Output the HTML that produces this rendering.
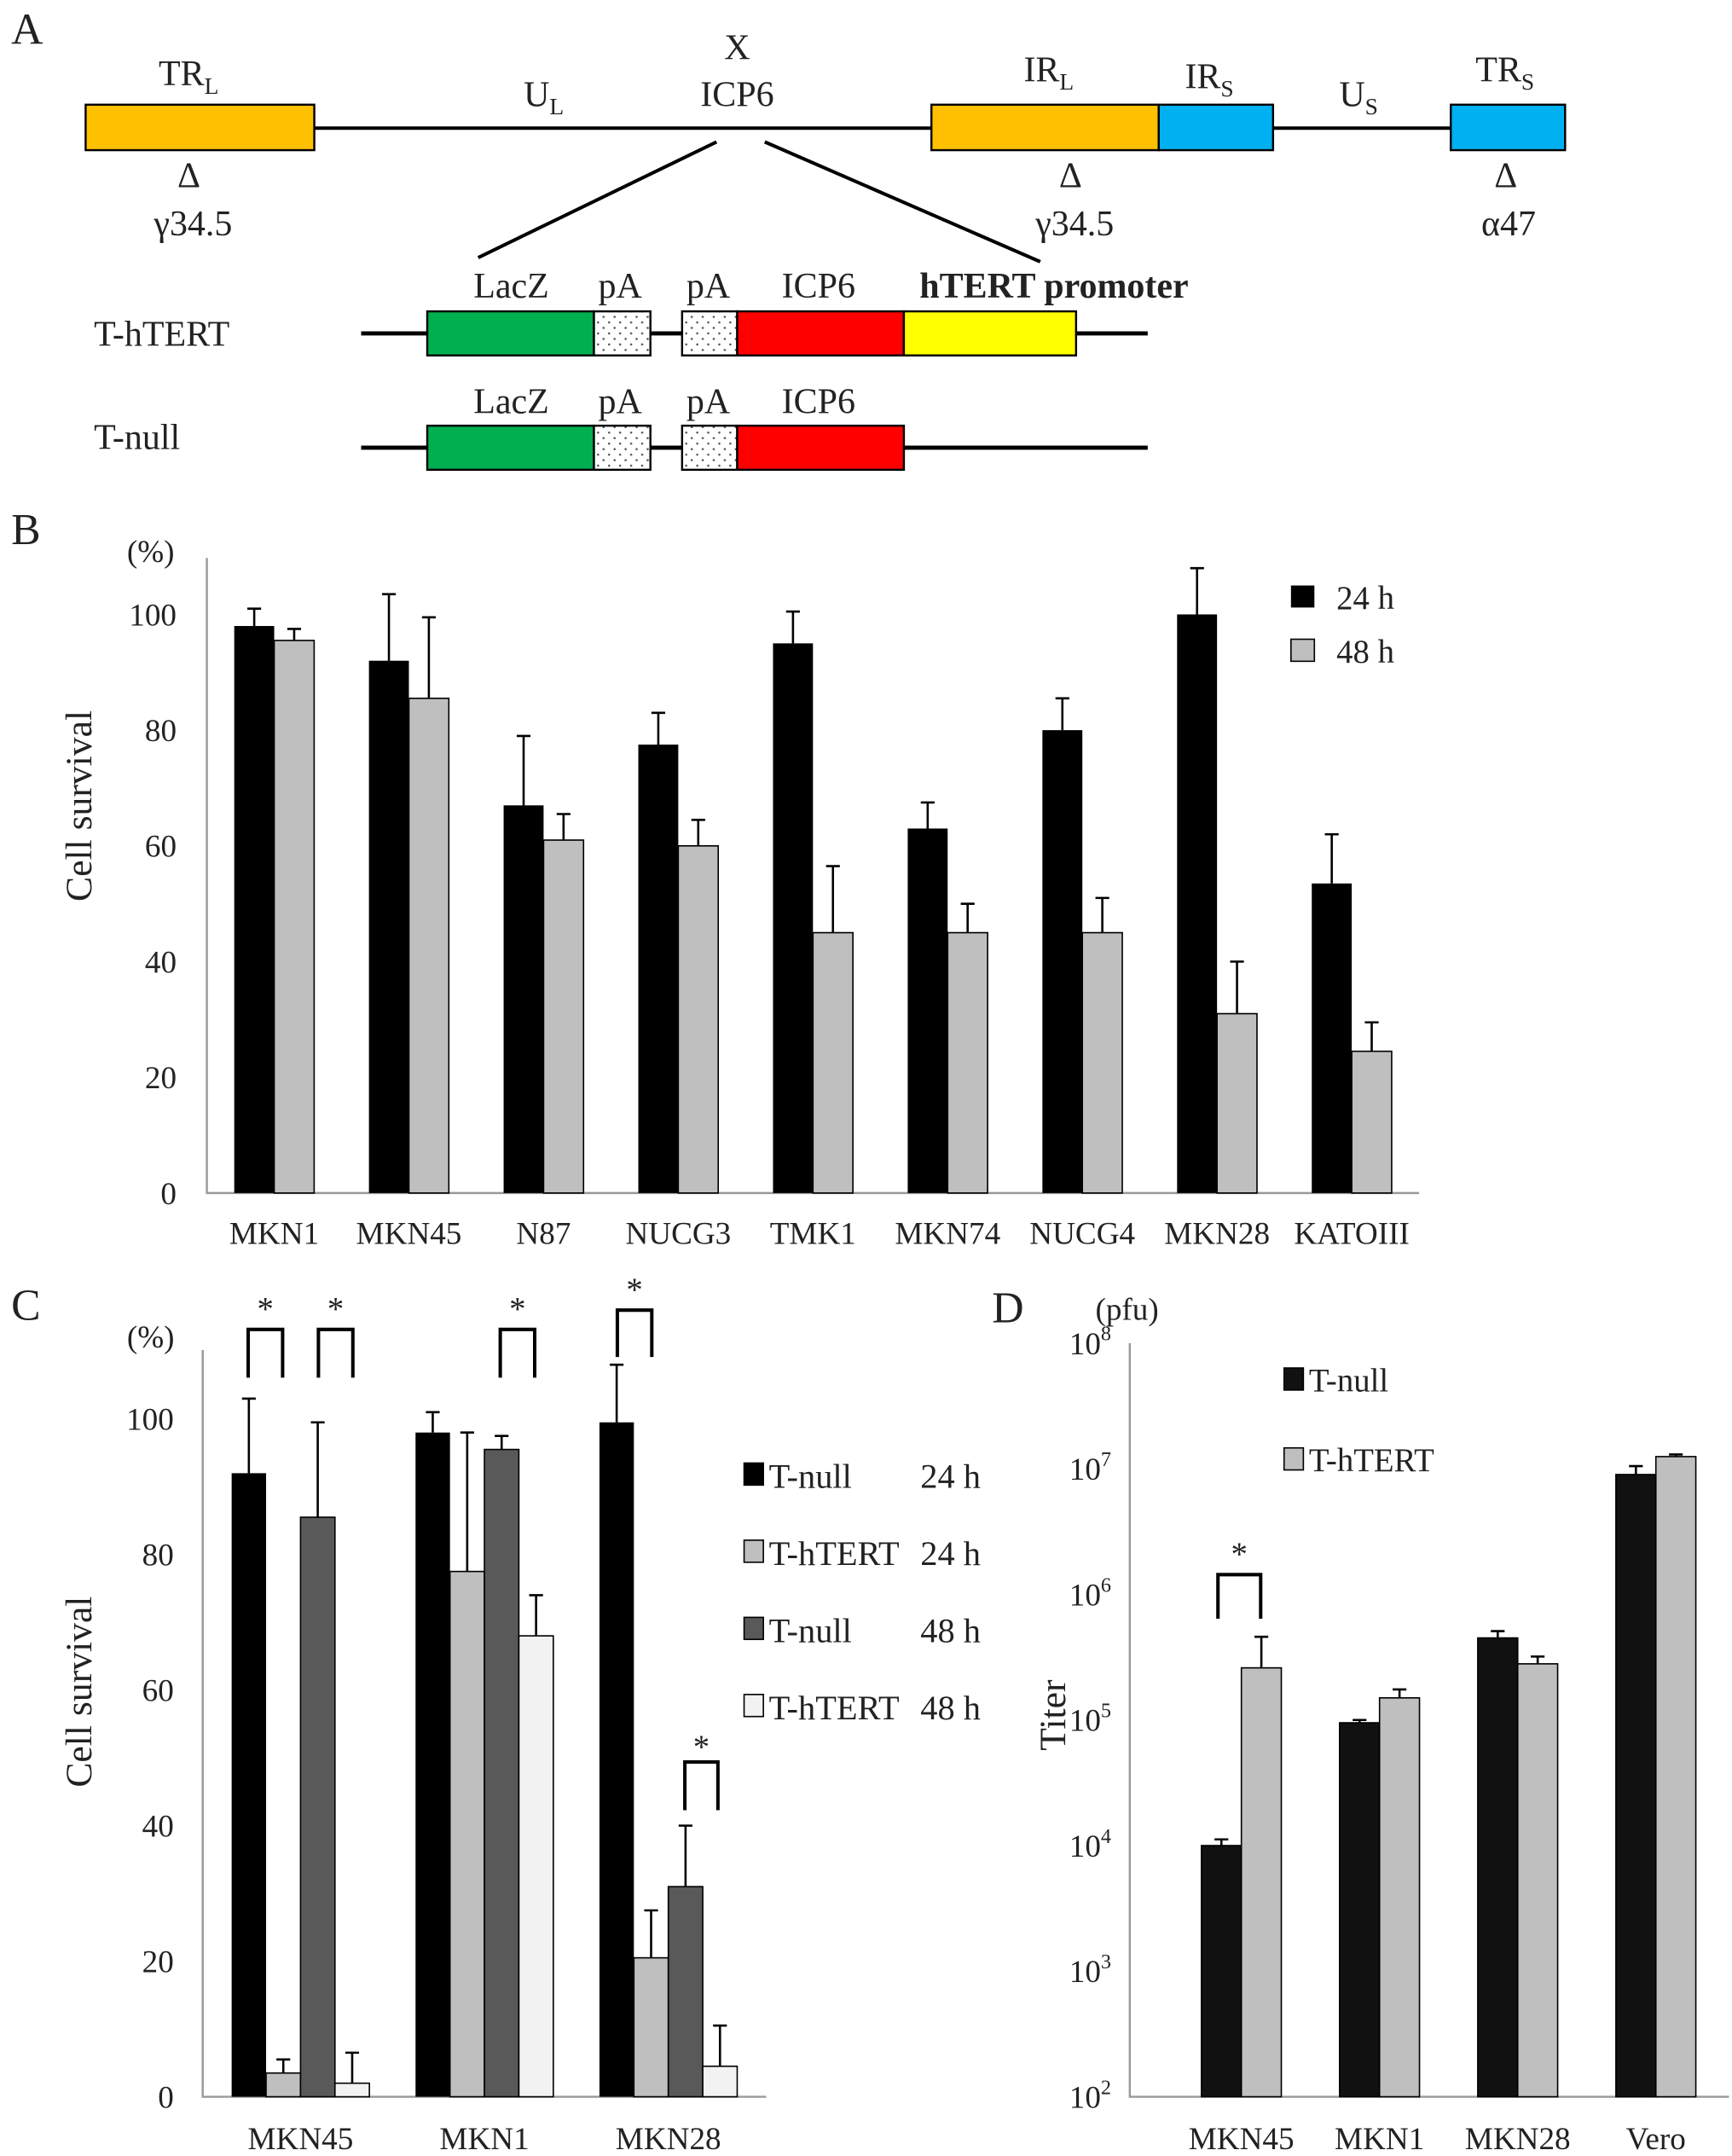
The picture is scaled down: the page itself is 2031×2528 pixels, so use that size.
<!DOCTYPE html>
<html><head><meta charset="utf-8"><style>
html,body{margin:0;padding:0;background:#fff}
svg{display:block}
text{font-family:"Liberation Serif",serif;fill:#222}
</style></head><body>
<svg id="fig" width="2031" height="2528" viewBox="0 0 1257 1565" xmlns="http://www.w3.org/2000/svg">
<!-- Panel A -->
<g font-size="26">
<text x="8" y="32" font-size="32">A</text>
<line x1="62" y1="93" x2="1136" y2="93" stroke="#000" stroke-width="2.5"/>
<rect x="62" y="76" width="166" height="33" fill="#FFC000" stroke="#000" stroke-width="1.5"/>
<rect x="676" y="76" width="165" height="33" fill="#FFC000" stroke="#000" stroke-width="1.5"/>
<rect x="841" y="76" width="83" height="33" fill="#00B0F0" stroke="#000" stroke-width="1.5"/>
<rect x="1053" y="76" width="83" height="33" fill="#00B0F0" stroke="#000" stroke-width="1.5"/>
<text x="115" y="62">TR<tspan font-size="17" dy="6">L</tspan></text>
<text x="380" y="77">U<tspan font-size="17" dy="6">L</tspan></text>
<text x="535" y="43" text-anchor="middle">X</text>
<text x="535" y="77" text-anchor="middle">ICP6</text>
<text x="743" y="59">IR<tspan font-size="17" dy="6">L</tspan></text>
<text x="860" y="64">IR<tspan font-size="17" dy="6">S</tspan></text>
<text x="972" y="77">U<tspan font-size="17" dy="6">S</tspan></text>
<text x="1071" y="59">TR<tspan font-size="17" dy="6">S</tspan></text>
<text x="137" y="136" text-anchor="middle">Δ</text>
<text x="140" y="171" text-anchor="middle">γ34.5</text>
<text x="777" y="136" text-anchor="middle">Δ</text>
<text x="780" y="171" text-anchor="middle">γ34.5</text>
<text x="1093" y="136" text-anchor="middle">Δ</text>
<text x="1095" y="171" text-anchor="middle">α47</text>
<line x1="520" y1="103" x2="347" y2="187" stroke="#000" stroke-width="2.5"/>
<line x1="555" y1="103" x2="755" y2="190" stroke="#000" stroke-width="2.5"/>
<defs><pattern id="dots" width="8" height="8" patternUnits="userSpaceOnUse"><rect width="8" height="8" fill="#fff"/><circle cx="2" cy="2" r="0.8" fill="#555"/><circle cx="6" cy="6" r="0.8" fill="#555"/></pattern></defs>
<g>
<text x="68" y="251">T-hTERT</text>
<line x1="262" y1="242" x2="833" y2="242" stroke="#000" stroke-width="3"/>
<rect x="310" y="226" width="121" height="32" fill="#00B050" stroke="#000" stroke-width="1.5"/>
<rect x="431" y="226" width="41" height="32" fill="url(#dots)" stroke="#000" stroke-width="1.5"/>
<rect x="495" y="226" width="40" height="32" fill="url(#dots)" stroke="#000" stroke-width="1.5"/>
<rect x="535" y="226" width="121" height="32" fill="#FF0000" stroke="#000" stroke-width="1.5"/>
<rect x="656" y="226" width="125" height="32" fill="#FFFF00" stroke="#000" stroke-width="1.5"/>
<text x="371" y="216" text-anchor="middle">LacZ</text><text x="450" y="216" text-anchor="middle">pA</text><text x="514" y="216" text-anchor="middle">pA</text><text x="594" y="216" text-anchor="middle">ICP6</text>
<text x="765" y="216" text-anchor="middle" font-weight="bold">hTERT promoter</text>
</g>
<g>
<text x="68" y="326">T-null</text>
<line x1="262" y1="325" x2="833" y2="325" stroke="#000" stroke-width="3"/>
<rect x="310" y="309" width="121" height="32" fill="#00B050" stroke="#000" stroke-width="1.5"/>
<rect x="431" y="309" width="41" height="32" fill="url(#dots)" stroke="#000" stroke-width="1.5"/>
<rect x="495" y="309" width="40" height="32" fill="url(#dots)" stroke="#000" stroke-width="1.5"/>
<rect x="535" y="309" width="121" height="32" fill="#FF0000" stroke="#000" stroke-width="1.5"/>
<text x="371" y="300" text-anchor="middle">LacZ</text><text x="450" y="300" text-anchor="middle">pA</text><text x="514" y="300" text-anchor="middle">pA</text><text x="594" y="300" text-anchor="middle">ICP6</text>
</g>
</g>
<g id="pb"></g>
<g id="pc"></g>
<g id="pd"></g>
</svg>
<script>
// Panel B data
const bCats = ["MKN1","MKN45","N87","NUCG3","TMK1","MKN74","NUCG4","MKN28","KATOIII"];
const b24 = [98,92,67,77.5,95,63,80,100,53.5];
const b24err = [3,11.5,12,5.5,5.5,4.5,5.5,8,8.5];
const b48 = [95.5,85.5,61,60,45,45,45,31,24.5];
const b48err = [2,14,4.5,4.5,11.5,5,6,9,5];
const bTicks = [0,20,40,60,80,100];
// Panel C data
const cCats = ["MKN45","MKN1","MKN28"];
const cNull24 = [92,98,99.5];
const cNull24err = [11,3,8.5];
const cTert24 = [3.5,77.5,20.5];
const cTert24err = [2,20.5,7];
const cNull48 = [85.5,95.5,31];
const cNull48err = [14,2,9];
const cTert48 = [2,68,4.5];
const cTert48err = [4.5,6,6];
const cTicks = [0,20,40,60,80,100];
// Panel D data
const dCats = ["MKN45","MKN1","MKN28","Vero"];
const dNull = [1.0e4,9.5e4,4.5e5,9e6];
const dNullTop = [1.12e4,1.0e5,5.1e5,1.05e7];
const dTert = [2.6e5,1.5e5,2.8e5,1.25e7];
const dTertTop = [4.6e5,1.75e5,3.2e5,1.3e7];
const dExps = [2,3,4,5,6,7,8];

const NS="http://www.w3.org/2000/svg";
function mk(parent,tag,attrs,txt){const e=document.createElementNS(NS,tag);for(const k in attrs)e.setAttribute(k,attrs[k]);if(txt!==undefined)e.textContent=txt;parent.appendChild(e);return e;}
function errBar(g,x,yTop,yBot){
  const l=mk(g,'path',{d:`M${x},${yBot}V${yTop}M${x-5},${yTop}H${x+5}`,stroke:'#000','stroke-width':1.6,fill:'none'});
  
  
}
function bracket(g,x1,x2,top,bot,sy){
  const p=mk(g,'path',{d:`M${x1},${bot}V${top}H${x2}V${bot}`,stroke:'#000','stroke-width':2.5,fill:'none'});
  
  
  const s=mk(g,'text',{x:(x1+x2)/2,y:sy,'text-anchor':'middle','font-size':24},'*');
  
  
}

// ---- Panel B ----
(function(){
const g=document.getElementById('pb');
const x0=150,x1=1030,y0=866,yTop=405,k=4.2;
const y=v=>y0-v*k;
const gw=(x1-x0)/bCats.length, bw=29;
const lab=mk(g,'text',{x:8,y:395,'font-size':32},'B');


const ax=mk(g,'path',{d:`M${x0},${yTop}V${y0}H${x1}`,stroke:'#999','stroke-width':1.5,fill:'none'});


bTicks.forEach(t=>{const e=mk(g,'text',{x:128,y:y(t)+8,'text-anchor':'end','font-size':23},t);

});
const pc=mk(g,'text',{x:92,y:408,'font-size':23},'(%)');


const yt=mk(g,'text',{x:0,y:0,'font-size':27,transform:'translate(66,585) rotate(-90)','text-anchor':'middle'},'Cell survival');


bCats.forEach((c,i)=>{
  const cx=x0+gw*(i+0.5);
  const r1=mk(g,'rect',{x:cx-bw,y:y(b24[i]),width:bw,height:b24[i]*k,fill:'#000'});
  
  
  errBar(g,cx-bw/2,y(b24[i]+b24err[i]),y(b24[i]));
  const r2=mk(g,'rect',{x:cx,y:y(b48[i]),width:bw,height:b48[i]*k,fill:'#bfbfbf',stroke:'#000','stroke-width':1});
  
  
  errBar(g,cx+bw/2,y(b48[i]+b48err[i]),y(b48[i]));
  const t=mk(g,'text',{x:cx,y:903,'text-anchor':'middle','font-size':23},c);
  
  
});
const l1=mk(g,'rect',{x:937,y:425,width:17,height:16,fill:'#000'});


const lt1=mk(g,'text',{x:970,y:442,'font-size':24},'24 h');


const l2=mk(g,'rect',{x:937,y:464,width:17,height:16,fill:'#bfbfbf',stroke:'#000'});


const lt2=mk(g,'text',{x:970,y:481,'font-size':24},'48 h');


})();

// ---- Panel C ----
(function(){
const g=document.getElementById('pc');
const x0=147,x1=556,y0=1522,yTop=980,k=4.92;
const y=v=>y0-v*k;
const centers=cCats.map((c,i)=>218+i*133.5), bw=25;
const lab=mk(g,'text',{x:8,y:958,'font-size':32},'C');


const ax=mk(g,'path',{d:`M${x0},${yTop}V${y0}H${x1}`,stroke:'#999','stroke-width':1.5,fill:'none'});


cTicks.forEach(t=>{const e=mk(g,'text',{x:126,y:y(t)+8,'text-anchor':'end','font-size':23},t);

});
const pc=mk(g,'text',{x:92,y:978,'font-size':23},'(%)');


const yt=mk(g,'text',{x:0,y:0,'font-size':27,transform:'translate(66,1228) rotate(-90)','text-anchor':'middle'},'Cell survival');


const series=[[cNull24,cNull24err,'#000','t-null-24h'],[cTert24,cTert24err,'#bfbfbf','t-htert-24h'],[cNull48,cNull48err,'#595959','t-null-48h'],[cTert48,cTert48err,'#f2f2f2','t-htert-48h']];
cCats.forEach((c,i)=>{
  const cx=centers[i];
  series.forEach((s,j)=>{
    const bx=cx-2*bw+j*bw, v=s[0][i];
    const r=mk(g,'rect',{x:bx,y:y(v),width:bw,height:v*k,fill:s[2],stroke:'#000','stroke-width':j===0?0:1});
    
    
    errBar(g,bx+bw/2,y(v+s[1][i]),y(v));
  });
  const t=mk(g,'text',{x:cx,y:1560,'text-anchor':'middle','font-size':23},c);
  
  
});
bracket(g,180,205,965,1000,958);
bracket(g,231,256,965,1000,958);
bracket(g,363,388,965,1000,958);
bracket(g,448,473,951,985,944);
bracket(g,497,521,1279,1314,1276);
const labels=[['T-null','24 h','#000'],['T-hTERT','24 h','#bfbfbf'],['T-null','48 h','#595959'],['T-hTERT','48 h','#f2f2f2']];
labels.forEach((L,j)=>{
  const yy=1078+j*56;
  const sw=mk(g,'rect',{x:540,y:yy-16,width:14,height:16,fill:L[2],stroke:'#000','stroke-width':1});
  
  
  const t1=mk(g,'text',{x:558,y:yy+2,'font-size':25},L[0]);
  
  
  const t2=mk(g,'text',{x:668,y:yy+2,'font-size':25},L[1]);
  
  
});
})();

// ---- Panel D ----
(function(){
const g=document.getElementById('pd');
const x0=820,x1=1255,y0=1522,yTop=975,dec=(y0-yTop)/6;
const y=v=>y0-(Math.log10(v)-2)*dec;
const bw=29;
const lab=mk(g,'text',{x:720,y:960,'font-size':32},'D');


const ax=mk(g,'path',{d:`M${x0},${yTop}V${y0}H${x1}`,stroke:'#999','stroke-width':1.5,fill:'none'});


dExps.forEach(e=>{
  const t=mk(g,'text',{x:776,y:y(Math.pow(10,e))+8,'font-size':23},'10');
  const s=mk(t,'tspan',{'font-size':15,dy:-10},e);
  
  
});
const pf=mk(g,'text',{x:795,y:958,'font-size':23},'(pfu)');


const yt=mk(g,'text',{x:0,y:0,'font-size':27,transform:'translate(773,1245) rotate(-90)','text-anchor':'middle'},'Titer');


dCats.forEach((c,i)=>{
  const cx=901+i*100.3;
  const r1=mk(g,'rect',{x:cx-bw,y:y(dNull[i]),width:bw,height:y0-y(dNull[i]),fill:'#111',stroke:'#000'});
  
  
  errBar(g,cx-bw/2,y(dNullTop[i]),y(dNull[i]));
  const r2=mk(g,'rect',{x:cx,y:y(dTert[i]),width:bw,height:y0-y(dTert[i]),fill:'#bfbfbf',stroke:'#000'});
  
  
  errBar(g,cx+bw/2,y(dTertTop[i]),y(dTert[i]));
  const t=mk(g,'text',{x:cx,y:1560,'text-anchor':'middle','font-size':23},c);
  
  
});
bracket(g,884,915,1143,1175,1136);
const s1=mk(g,'rect',{x:932,y:993,width:14,height:16,fill:'#111',stroke:'#000'});


const t1=mk(g,'text',{x:950,y:1010,'font-size':24},'T-null');


const s2=mk(g,'rect',{x:932,y:1051,width:14,height:16,fill:'#bfbfbf',stroke:'#000'});


const t2=mk(g,'text',{x:950,y:1068,'font-size':24},'T-hTERT');


})();
</script>
</body></html>
